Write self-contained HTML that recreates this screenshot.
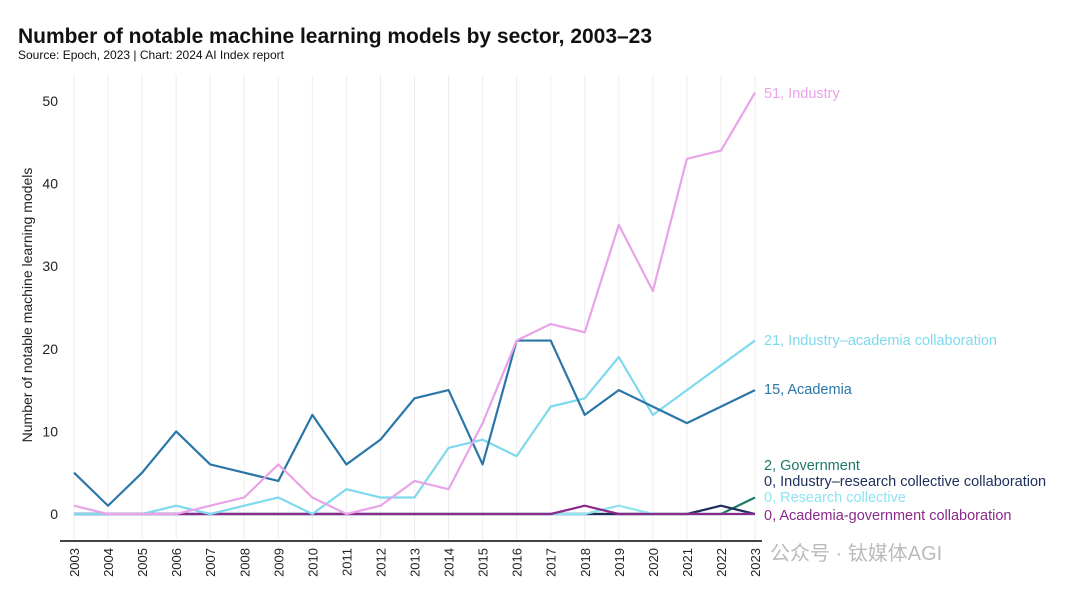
<!DOCTYPE html>
<html><head><meta charset="utf-8"><style>
body{margin:0;background:#fff;width:1080px;height:598px;overflow:hidden;font-family:"Liberation Sans","Noto Sans CJK SC",sans-serif}
</style></head><body>
<svg id="c" width="1080" height="598" font-family="Liberation Sans, Noto Sans CJK SC, sans-serif">
<text x="18" y="43" font-size="21" font-weight="bold" fill="#111" textLength="634">Number of notable machine learning models by sector, 2003–23</text>
<text x="18" y="59" font-size="12" fill="#111">Source: Epoch, 2023 | Chart: 2024 AI Index report</text>
<text transform="translate(32,305) rotate(-90)" text-anchor="middle" font-size="14" fill="#222">Number of notable machine learning models</text>
<g id="grid"></g><g id="lines"></g><g id="labels"></g>
<text x="770" y="560" font-size="20" fill="#bbb">公众号 · 钛媒体AGI</text>
</svg>
<script>
const years=[2003,2004,2005,2006,2007,2008,2009,2010,2011,2012,2013,2014,2015,2016,2017,2018,2019,2020,2021,2022,2023];
const yTicks=[0,10,20,30,40,50];
const industry=[1,0,0,0,1,2,6,2,0,1,4,3,11,21,23,22,35,27,43,44,51];
const academia=[5,1,5,10,6,5,4,12,6,9,14,15,6,21,21,12,15,13,11,13,15];
const indAcad=[0,0,0,1,0,1,2,0,3,2,2,8,9,7,13,14,19,12,15,18,21];
const government=[0,0,0,0,0,0,0,0,0,0,0,0,0,0,0,0,0,0,0,0,2];
const indResColl=[0,0,0,0,0,0,0,0,0,0,0,0,0,0,0,0,0,0,0,1,0];
const resColl=[0,0,0,0,0,0,0,0,0,0,0,0,0,0,0,0,1,0,0,0,0];
const acadGov=[0,0,0,0,0,0,0,0,0,0,0,0,0,0,0,1,0,0,0,0,0];
const seriesNames=["Industry","Academia","Industry–academia collaboration","Government","Industry–research collective collaboration","Research collective","Academia-government collaboration"];
const NS="http://www.w3.org/2000/svg";
const x=i=>74+i*(755-74)/(years.length-1);
const y=v=>514-v*(514-101)/50;
function mk(t,a,p){const e=document.createElementNS(NS,t);for(const k in a)e.setAttribute(k,a[k]);p.appendChild(e);return e;}
const grid=document.getElementById('grid'),lines=document.getElementById('lines'),labels=document.getElementById('labels');
years.forEach((yr,i)=>{
 const g=mk('line',{x1:x(i),x2:x(i),y1:75,y2:540,stroke:'#eee','stroke-width':1},grid);
 
 
 const t=mk('text',{transform:`translate(${x(i)+5},${548}) rotate(-90)`,'text-anchor':'end','font-size':13,fill:'#222'},grid);
 t.textContent=yr;
 
 
});
const ax=mk('line',{x1:60,x2:762,y1:541,y2:541,stroke:'#444','stroke-width':2},grid);


yTicks.forEach(v=>{
 const t=mk('text',{x:58,y:y(v)+5,'text-anchor':'end','font-size':14,fill:'#222'},grid);
 t.textContent=v;
 
 
});
const defs=[
 [government,'#1f7a6a','government',466],
 [indResColl,'#1d2e5a','industry-research-collective',482],
 [resColl,'#8ee4f0','research-collective',498],
 [acadGov,'#8a2a8a','academia-government',516],
 [indAcad,'#7fd9ee','industry-academia',341],
 [academia,'#2a76a8','academia',390],
 [industry,'#e9a3e8','industry',94]];
const nameIdx={industry:0,academia:1,'industry-academia':2,government:3,'industry-research-collective':4,'research-collective':5,'academia-government':6};
defs.forEach(([d,c,n,ly])=>{
 const p=mk('polyline',{points:d.map((v,i)=>x(i)+','+y(v)).join(' '),fill:'none',stroke:c,'stroke-width':2.2,'stroke-linejoin':'round'},lines);
 
 
 const t=mk('text',{x:764,y:ly+4,'font-size':14.5,fill:c},labels);
 t.textContent=d[d.length-1]+', '+seriesNames[nameIdx[n]];
 
 
});
</script>
</body></html>
